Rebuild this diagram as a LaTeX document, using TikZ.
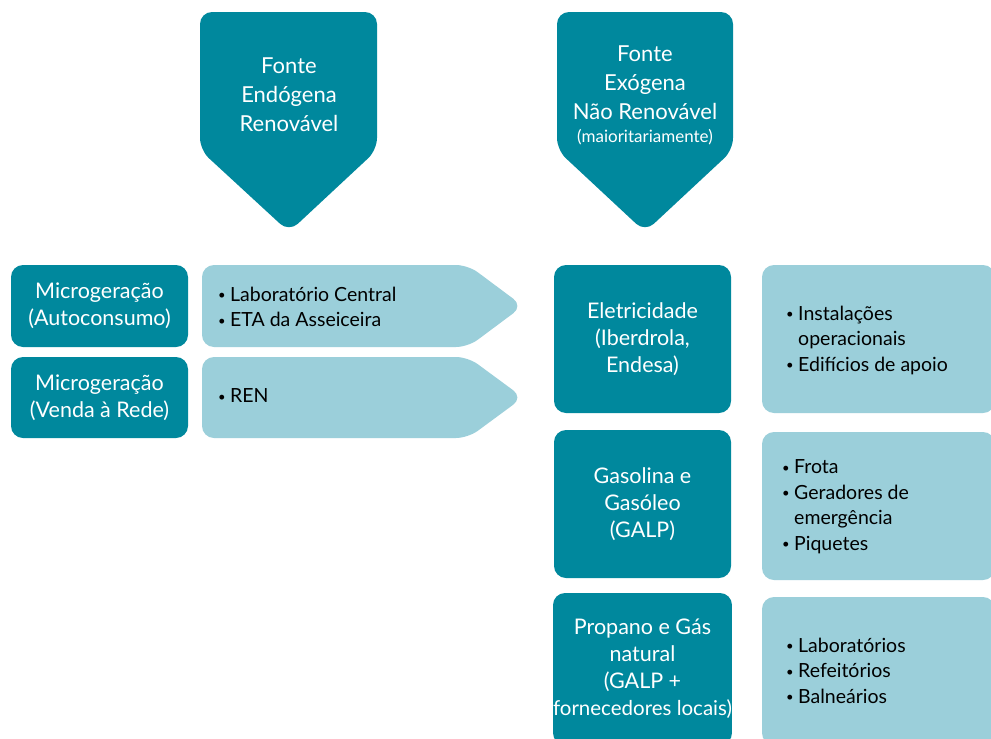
\documentclass[tikz,border=0pt]{standalone}
\usepackage{fontspec}
\setmainfont{Lato}
\definecolor{darkteal}{HTML}{00889D}
\definecolor{lightteal}{HTML}{9BCFDA}
\newcommand\bul{\makebox[12pt][l]{\raisebox{1.5pt}{\fontsize{13}{13}\selectfont •}}}
\newcommand\bulgap{\hspace*{12pt}}
\begin{document}
\begin{tikzpicture}[x=1pt,y=-1pt,
  darkbox/.style={fill=darkteal, draw=none, rounded corners=12pt, inner sep=0pt,
    text=white, align=center, font=\fontsize{21.5}{27}\selectfont},
  lightbox/.style={fill=lightteal, draw=none, rounded corners=12pt, inner sep=0pt},
  headtext/.style={text=white, align=center, inner sep=0pt, font=\fontsize{22}{29}\selectfont},
  listtext/.style={text=black, align=left, inner sep=0pt, anchor=west, font=\fontsize{19.5}{25.5}\selectfont},
]
\useasboundingbox (0,0) rectangle (991,739);
\clip (0,0) rectangle (991,739);
\fill[white] (0,0) rectangle (991,739);

% headers
\fill[darkteal, rounded corners=12pt] (200,12) -- (377,12) -- (377,150) -- (289,232) -- (200,150) -- cycle;
\node[headtext] (h1) at (289,95) {Fonte\\Endógena\\Renovável};
\fill[darkteal, rounded corners=12pt] (557,12) -- (733,12) -- (733,150) -- (645,232) -- (557,150) -- cycle;
\node[headtext] (h2) at (645,95) {Fonte\\Exógena\\Não Renovável\\[-6pt]{\fontsize{17}{20}\selectfont(maioritariamente)}};

% left column
\node[darkbox, minimum width=177pt, minimum height=82pt] (m1) at (99.5,306) {Microgeração\\(Autoconsumo)};
\node[darkbox, minimum width=177pt, minimum height=81pt] (m2) at (99.5,397.5) {Microgeração\\(Venda à Rede)};
\fill[lightteal, rounded corners=12pt] (202,265) -- (468,265) -- (523,306) -- (468,347) -- (202,347) -- cycle;
\node[listtext] (lt1) at (218,307) {\bul Laboratório Central\\\bul ETA da Asseiceira};
\fill[lightteal, rounded corners=12pt] (202,357) -- (468,357) -- (523,397.5) -- (468,438) -- (202,438) -- cycle;
\node[listtext] (lt2) at (218,396) {\bul REN};

% right column
\node[darkbox, minimum width=177pt, minimum height=148pt] (e1) at (642.5,339) {Eletricidade\\(Iberdrola,\\Endesa)};
\node[darkbox, minimum width=177pt, minimum height=148pt] (e2) at (642.5,504) {Gasolina e\\Gasóleo\\(GALP)};
\node[darkbox, minimum width=177pt, minimum height=152pt] (e3) at (642.5,669) {Propano e Gás\\natural\\(GALP +\\{\fontsize{20.5}{27}\selectfont fornecedores locais)}};

\node[lightbox, minimum width=233pt, minimum height=148pt] (l1) at (878.5,339) {};
\node[listtext] (r1) at (786,340) {\bul Instalações\\\bulgap operacionais\\\bul Edifícios de apoio};
\node[lightbox, minimum width=233pt, minimum height=148pt] (l2) at (878.5,506) {};
\node[listtext] (r2) at (782,506.5) {\bul Frota\\\bul Geradores de\\\bulgap emergência\\\bul Piquetes};
\node[lightbox, minimum width=233pt, minimum height=148pt] (l3) at (878.5,671) {};
\node[listtext] (r3) at (786,670.5) {\bul Laboratórios\\\bul Refeitórios\\\bul Balneários};
\end{tikzpicture}
\end{document}
